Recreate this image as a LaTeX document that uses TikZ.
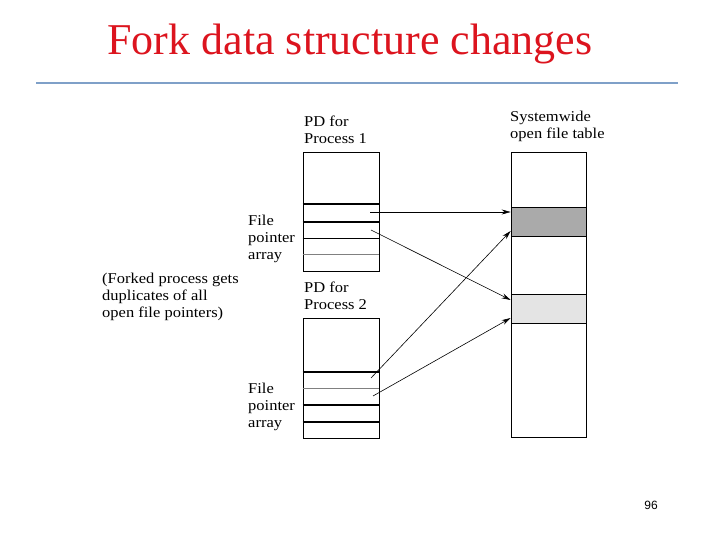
\documentclass[tikz,border=0pt]{standalone}
\usepackage{fontspec}
\setmainfont{Liberation Serif}
\newfontfamily\figfont[FakeStretch=1.1]{Liberation Serif}
\newfontfamily\numfont{Liberation Sans}
\usetikzlibrary{arrows.meta,positioning,calc}
\definecolor{titlered}{RGB}{220,20,30}
\definecolor{ruleblue}{RGB}{127,160,200}
\definecolor{entdark}{RGB}{170,170,170}
\definecolor{entlight}{RGB}{228,228,228}

\begin{document}
\begin{tikzpicture}[x=1pt, y=-1pt, font=\figfont\fontsize{15}{17}\selectfont, tbl/.style={draw, line width=0.7pt, minimum width=76pt, inner sep=0}, ent/.style={draw, line width=0.7pt, minimum width=75pt, minimum height=29pt, inner sep=0}, lbl/.style={align=left, inner sep=0, anchor=north west}, arr/.style={-{Stealth[length=9pt,width=5pt]}, line width=0.6pt}]
\useasboundingbox (0,0) rectangle (720,540);
\node[font=\fontsize{44}{50}\selectfont, text=titlered, anchor=base] (title) at (350,55) {Fork data structure changes};
\draw[ruleblue, line width=2pt] (36,83) -- (678,83);
% process descriptors
\node[tbl, minimum height=119pt] (pd1) at (341,211.5) {};
\node[tbl, minimum height=120pt] (pd2) at (341,378) {};
\draw[line width=1.6pt] (pd1.west |- 0,204) -- (pd1.east |- 0,204);
\draw[line width=1.1pt] (pd1.west |- 0,222) -- (pd1.east |- 0,222);
\draw[line width=0.6pt] (pd1.west |- 0,238) -- (pd1.east |- 0,238);
\draw[line width=0.5pt, black!50] (pd1.west |- 0,254) -- (pd1.east |- 0,254);
\draw[line width=1.1pt] (pd2.west |- 0,372) -- (pd2.east |- 0,372);
\draw[line width=0.5pt, black!50] (pd2.west |- 0,388) -- (pd2.east |- 0,388);
\draw[line width=1.1pt] (pd2.west |- 0,405) -- (pd2.east |- 0,405);
\draw[line width=1.1pt] (pd2.west |- 0,422) -- (pd2.east |- 0,422);
% open file table
\node[tbl, minimum width=75pt, minimum height=285pt] (oft) at (548.5,294.5) {};
\node[ent, fill=entdark] (ent1) at (548.5,221.5) {};
\node[ent, fill=entlight] (ent2) at (548.5,309) {};
% labels
\node[lbl] (pd1lbl) at (304,116) {PD for\\Process 1};
\node[lbl] (fpa1) at (248,215) {File\\pointer\\array};
\node[lbl] (pd2lbl) at (304,282) {PD for\\Process 2};
\node[lbl] (fpa2) at (248,382.5) {File\\pointer\\array};
\node[lbl] (oftlbl) at (510,111) {Systemwide\\open file table};
\node[lbl] (forked) at (102,272.5) {(Forked process gets\\duplicates of all\\open file pointers)};
\node[font=\numfont\fontsize{12}{14}\selectfont] (pgnum) at (651,505) {96};
% pointers
\coordinate (p1a) at (370,212);
\coordinate (p1b) at (371,230);
\coordinate (p2a) at (371,378);
\coordinate (p2b) at (373,396);
\draw[arr] (p1a) -- ([yshift=9.5pt]ent1.west);
\draw[arr] (p1b) -- ([yshift=9pt]ent2.west);
\draw[arr] (p2a) -- ([yshift=-9.5pt]ent1.west);
\draw[arr] (p2b) -- ([yshift=-9pt]ent2.west);
\end{tikzpicture}
\end{document}
